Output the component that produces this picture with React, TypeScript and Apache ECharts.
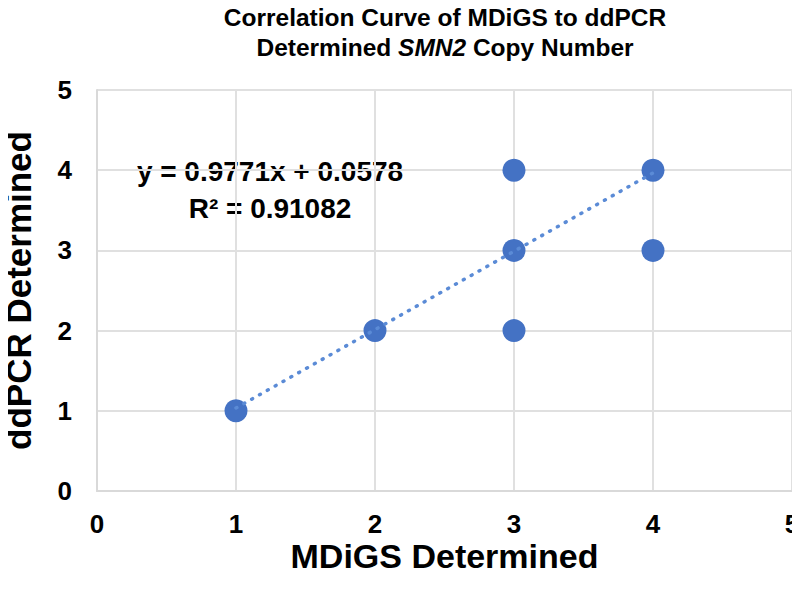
import React, { useEffect, useRef } from "react";
import * as echarts from "echarts";

const mdigs = [1, 2, 3, 3, 3, 4, 4];
const ddpcr = [1, 2, 4, 3, 2, 4, 3];
const slope = 0.9771;
const intercept = 0.0578;
const rSquared = "0.91082";
const trendX = [1, 4];
const xTicks = [0, 5, 1];
const yTicks = [0, 5, 1];

export default function App() {
  const ref = useRef<HTMLDivElement>(null);
  useEffect(() => {
    if (!ref.current) return;
    const chart = echarts.init(ref.current, undefined, { renderer: "svg" });
    const font = "'Liberation Sans', Arial, sans-serif";
    const points = mdigs.map((x, i) => [x, ddpcr[i]]);
    const trend = trendX.map((x) => [x, slope * x + intercept]);
    chart.setOption({
      animation: false,
      backgroundColor: "#ffffff",
      grid: { left: 97, right: 8, top: 90, bottom: 102, outerBoundsMode: "none", containLabel: false },
      xAxis: {
        type: "value",
        min: xTicks[0],
        max: xTicks[1],
        interval: xTicks[2],
        name: "MDiGS Determined",
        nameLocation: "middle",
        nameGap: 48,
        nameMoveOverlap: false,
        nameTextStyle: { fontFamily: font, fontWeight: "bold", fontSize: 34, color: "#000" },
        axisLine: { show: true, lineStyle: { color: "#d9d9d9", width: 2 } },
        axisTick: { show: false },
        axisLabel: { fontFamily: font, fontWeight: "bold", fontSize: 26, color: "#000", margin: 20 },
        splitLine: { show: true, lineStyle: { color: "#e0e0e0", width: 2 } },
      },
      yAxis: {
        type: "value",
        min: yTicks[0],
        max: yTicks[1],
        interval: yTicks[2],
        name: "ddPCR Determined",
        nameLocation: "middle",
        nameGap: 61,
        nameMoveOverlap: false,
        nameTextStyle: { fontFamily: font, fontWeight: "bold", fontSize: 35, color: "#000" },
        axisLine: { show: true, lineStyle: { color: "#d9d9d9", width: 2 } },
        axisTick: { show: false },
        axisLabel: { fontFamily: font, fontWeight: "bold", fontSize: 26, color: "#000", margin: 25 },
        splitLine: { show: true, lineStyle: { color: "#e0e0e0", width: 2 } },
      },
      series: [
        {
          type: "scatter",
          data: points,
          symbol: "circle",
          symbolSize: 23,
          itemStyle: { color: "#4472c4", opacity: 1 },
          z: 2,
        },
        {
          type: "line",
          data: trend,
          showSymbol: false,
          symbol: "none",
          lineStyle: { color: "#5b8bd6", width: 3.5, type: [1, 8], cap: "round" },
          z: 3,
        },
      ],
      graphic: [
        {
          type: "text",
          x: 445,
          y: 32,
          style: {
            text: "Correlation Curve of MDiGS to ddPCR\nDetermined {i|SMN2} Copy Number",
            fontFamily: font,
            fontWeight: "bold",
            fontSize: 24.5,
            lineHeight: 30,
            fill: "#000",
            align: "center",
            verticalAlign: "middle",
            rich: {
              i: { fontFamily: font, fontWeight: "bold", fontStyle: "italic", fontSize: 24.5, lineHeight: 30, fill: "#000" },
            },
          },
        },
        {
          type: "text",
          x: 270,
          y: 190,
          style: {
            text: `y = ${slope}x + ${intercept}\nR² = ${rSquared}`,
            fontFamily: font,
            fontWeight: "bold",
            fontSize: 28,
            lineHeight: 37,
            fill: "#000",
            align: "center",
            verticalAlign: "middle",
          },
        },
      ],
    });
    return () => chart.dispose();
  }, []);
  return <div ref={ref} style={{ width: 800, height: 593, margin: -8 }} />;
}
